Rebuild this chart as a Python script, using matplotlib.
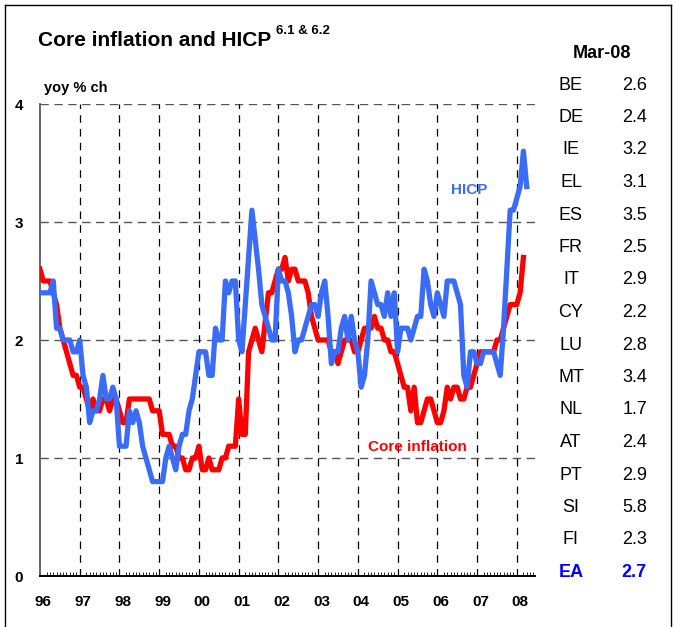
import matplotlib
matplotlib.use("Agg")
import matplotlib.pyplot as plt
from matplotlib.lines import Line2D

plt.rcParams['font.family'] = ['Liberation Sans', 'DejaVu Sans']

# monthly data, Jan 1996 onwards (year-on-year % change)
hicp = [
    2.4, 2.4, 2.4, 2.4, 2.5, 2.1, 2.1, 2.0, 2.0, 2.0, 1.9, 1.9,   # 96
    2.0, 1.7, 1.6, 1.3, 1.4, 1.4, 1.5, 1.7, 1.5, 1.5, 1.6, 1.5,   # 97
    1.1, 1.1, 1.1, 1.4, 1.3, 1.4, 1.3, 1.1, 1.0, 0.9, 0.8, 0.8,   # 98
    0.8, 0.8, 1.0, 1.1, 1.0, 0.9, 1.1, 1.2, 1.2, 1.4, 1.5, 1.7,   # 99
    1.9, 1.9, 1.9, 1.7, 1.7, 2.1, 2.0, 2.0, 2.5, 2.4, 2.5, 2.5,   # 00
    2.0, 1.9, 2.3, 2.7, 3.1, 2.85, 2.6, 2.3, 2.2, 2.1, 2.0, 2.0,  # 01
    2.6, 2.5, 2.5, 2.4, 2.2, 1.9, 2.0, 2.0, 2.1, 2.2, 2.3, 2.3,   # 02
    2.2, 2.4, 2.5, 2.2, 1.8, 1.9, 1.9, 2.1, 2.2, 2.0, 2.2, 2.0,   # 03
    1.9, 1.6, 1.7, 2.0, 2.5, 2.4, 2.3, 2.3, 2.2, 2.4, 2.2, 2.4,   # 04
    1.9, 2.1, 2.1, 2.1, 2.0, 2.1, 2.2, 2.2, 2.6, 2.5, 2.3, 2.2,   # 05
    2.4, 2.3, 2.2, 2.5, 2.5, 2.5, 2.4, 2.3, 1.7, 1.6, 1.9, 1.9,   # 06
    1.8, 1.8, 1.9, 1.9, 1.9, 1.9, 1.8, 1.7, 2.1, 2.6, 3.1, 3.1,   # 07
    3.2, 3.3, 3.6, 3.3,                                           # 08
]
core = [
    2.6, 2.5, 2.5, 2.5, 2.4, 2.3, 2.1, 2.0, 1.9, 1.8, 1.7, 1.7,   # 96
    1.6, 1.6, 1.5, 1.4, 1.5, 1.4, 1.4, 1.5, 1.5, 1.4, 1.5, 1.5,   # 97
    1.4, 1.3, 1.3, 1.5, 1.5, 1.5, 1.5, 1.5, 1.5, 1.5, 1.4, 1.4,   # 98
    1.4, 1.2, 1.2, 1.2, 1.1, 1.1, 1.0, 1.0, 0.9, 0.9, 1.0, 1.0,   # 99
    1.1, 0.9, 0.9, 1.0, 0.9, 0.9, 0.9, 1.0, 1.0, 1.1, 1.1, 1.1,   # 00
    1.5, 1.2, 1.2, 1.9, 2.0, 2.1, 2.0, 1.9, 2.15, 2.4, 2.4, 2.5,  # 01
    2.6, 2.6, 2.7, 2.5, 2.6, 2.6, 2.5, 2.5, 2.5, 2.4, 2.2, 2.1,   # 02
    2.0, 2.0, 2.0, 2.0, 1.9, 1.9, 1.8, 1.9, 2.0, 2.0, 2.0, 1.9,   # 03
    1.9, 2.0, 2.1, 2.1, 2.1, 2.2, 2.1, 2.1, 2.0, 2.0, 1.9, 1.9,   # 04
    1.8, 1.7, 1.6, 1.6, 1.4, 1.6, 1.3, 1.3, 1.4, 1.5, 1.5, 1.4,   # 05
    1.3, 1.3, 1.4, 1.6, 1.5, 1.6, 1.6, 1.5, 1.5, 1.6, 1.6, 1.7,   # 06
    1.8, 1.9, 1.9, 1.9, 1.9, 1.9, 2.0, 2.0, 2.1, 2.2, 2.3, 2.3,   # 07
    2.3, 2.4, 2.7,                                                # 08
]
year_labels = ['96', '97', '98', '99', '00', '01', '02', '03', '04', '05', '06', '07', '08']

countries = ['BE', 'DE', 'IE', 'EL', 'ES', 'FR', 'IT', 'CY', 'LU', 'MT', 'NL', 'AT', 'PT', 'SI', 'FI', 'EA']
country_vals = ['2.6', '2.4', '3.2', '3.1', '3.5', '2.5', '2.9', '2.2', '2.8', '3.4', '1.7', '2.4', '2.9', '5.8', '2.3', '2.7']

W, H = 673, 627
fig = plt.figure(figsize=(W / 100, H / 100), dpi=100)
ax = fig.add_axes([40 / W, 51 / H, 495 / W, 472 / H])

red = '#ff0000'
blue = '#3a6cf6'

ax.plot(range(len(core)), core, color=red, lw=3.8, solid_joinstyle='round', zorder=3)
ax.plot(range(len(hicp)), hicp, color=blue, lw=3.8, solid_joinstyle='round', zorder=4)

ax.set_xlim(0, 149.5)
ax.set_ylim(0, 4)

for y in [1, 2, 3, 4]:
    ax.axhline(y, color='#555555', lw=1, dashes=(6, 4), zorder=1)
for k in range(1, 13):
    ax.axvline(12 * k, color='black', lw=0.9, dashes=(6, 5), zorder=1)

ax.set_yticks([0, 1, 2, 3, 4])
ax.set_yticklabels(['0', '1', '2', '3', '4'], fontweight='bold', fontsize=11)
ax.tick_params(axis='y', length=0, pad=12)

ax.set_xticks([12 * i + 1 for i in range(len(year_labels))])
ax.set_xticklabels(year_labels, fontweight='bold', fontsize=11)
ax.set_xticks(range(0, 150), minor=True)
ax.tick_params(axis='x', which='major', length=0, pad=14)
ax.tick_params(axis='x', which='minor', direction='in', length=3, width=0.6)

for s in ['top', 'right']:
    ax.spines[s].set_visible(False)
ax.spines['left'].set_color('#666666')
ax.spines['left'].set_linewidth(1.4)
ax.spines['bottom'].set_linewidth(1.4)

ax.text(129.5, 3.27, 'HICP', color=blue, fontweight='bold', fontsize=11, ha='center', va='center')
ax.text(114, 1.09, 'Core inflation', color=red, fontweight='bold', fontsize=11, ha='center', va='center')

fig.text(38 / W, 1 - 40 / H, 'Core inflation and HICP', fontsize=15, fontweight='bold', va='center')
fig.text(276 / W, 1 - 31 / H, '6.1 & 6.2', fontsize=9.5, fontweight='bold', va='center')
fig.text(44 / W, 1 - 88 / H, 'yoy % ch', fontsize=10.5, fontweight='bold', va='center')

fig.text(602 / W, 1 - 53 / H, 'Mar-08', fontsize=13, fontweight='bold', ha='center', va='center')
for i, (c, v) in enumerate(zip(countries, country_vals)):
    y = 1 - (85 + 32.5 * i) / H
    if c == 'EA':
        kw = dict(color='#0000ff', fontweight='bold')
    else:
        kw = dict(color='black')
    fig.text(571 / W, y, c, fontsize=13, ha='center', va='center', **kw)
    fig.text(647 / W, y, v, fontsize=13, ha='right', va='center', **kw)

# outer frame
fx0, fx1, fy1 = 5 / W, 671 / W, 1 - 5 / H
fig.add_artist(Line2D([fx0, fx0], [0, fy1], transform=fig.transFigure, color='black', lw=1))
fig.add_artist(Line2D([fx0, fx1], [fy1, fy1], transform=fig.transFigure, color='black', lw=1))
fig.add_artist(Line2D([fx1, fx1], [0, fy1], transform=fig.transFigure, color='black', lw=1))

fig.savefig('out.png', dpi=100)
